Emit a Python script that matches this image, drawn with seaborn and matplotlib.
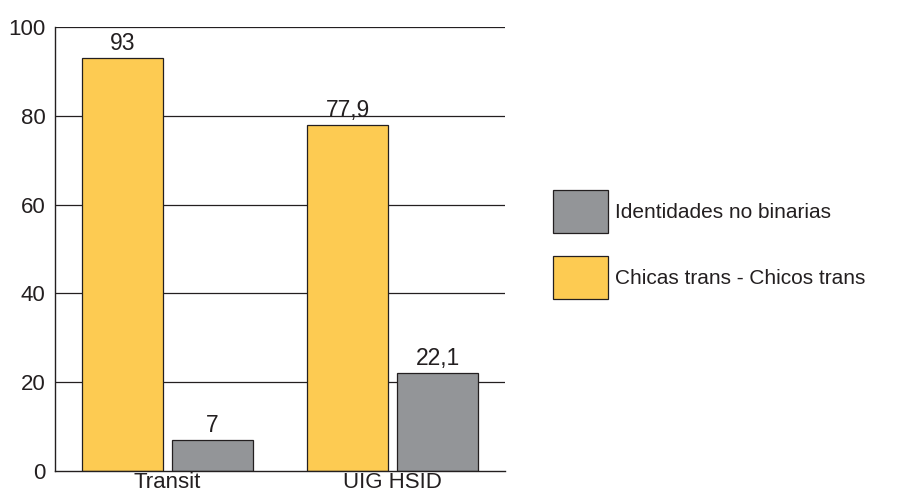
import matplotlib
matplotlib.use("Agg")
import matplotlib.pyplot as plt
import seaborn as sns
import pandas as pd
from matplotlib.patches import Patch

# Data
categories = ["Transit", "UIG HSID"]
groups = ["Chicas trans - Chicos trans", "Identidades no binarias"]
binary_values = [93, 77.9]
nonbinary_values = [7, 22.1]
yticks = [0, 20, 40, 60, 80, 100]

colors = {groups[0]: "#FDCB52", groups[1]: "#939598"}
ink = "#231f20"

df = pd.DataFrame({
    "cat": categories * 2,
    "group": [groups[0]] * 2 + [groups[1]] * 2,
    "value": binary_values + nonbinary_values,
})

sns.set_theme(style="white")
plt.rcParams["font.family"] = ["Liberation Sans", "DejaVu Sans"]

fig = plt.figure(figsize=(9.05, 4.97), dpi=100)
ax = fig.add_axes([55 / 905, 1 - 471 / 497, 450 / 905, 444 / 497])

sns.barplot(data=df, x="cat", y="value", hue="group", hue_order=groups,
            order=categories, palette=colors, width=0.8, gap=0.1,
            edgecolor=ink, linewidth=0.9, saturation=1,
            legend=False, ax=ax, zorder=3)

ax.set_ylim(0, 100)
ax.set_xlim(-0.5, 1.5)
ax.set_yticks(yticks)
ax.set_yticklabels([str(t) for t in yticks])
for t in yticks[1:]:
    ax.axhline(t, color=ink, linewidth=0.9, zorder=1)

for sp in ["top", "right"]:
    ax.spines[sp].set_visible(False)
for sp in ["left", "bottom"]:
    ax.spines[sp].set_color(ink)
    ax.spines[sp].set_linewidth(1.0)
    ax.spines[sp].set_zorder(4)

ax.tick_params(axis="both", length=0, colors=ink)
ax.tick_params(axis="y", pad=7, labelsize=16)
ax.tick_params(axis="x", pad=0.5, labelsize=16)
ax.set_xlabel("")
ax.set_ylabel("")

for cont in ax.containers:
    labels = [f"{v:g}".replace(".", ",") for v in cont.datavalues]
    ax.bar_label(cont, labels=labels, padding=2, fontsize=16.5, color=ink)

handles = [Patch(facecolor=colors[groups[1]], edgecolor=ink, linewidth=0.9),
           Patch(facecolor=colors[groups[0]], edgecolor=ink, linewidth=0.9)]
fig.legend(handles, [groups[1], groups[0]], loc="upper left",
           bbox_to_anchor=(553 / 905, 1 - 190 / 497), frameon=False,
           fontsize=15, handlelength=2.64, handleheight=2.8,
           handletextpad=0.35, labelspacing=1.1, borderpad=0, borderaxespad=0,
           labelcolor=ink)

fig.savefig("out.png", dpi=100)
